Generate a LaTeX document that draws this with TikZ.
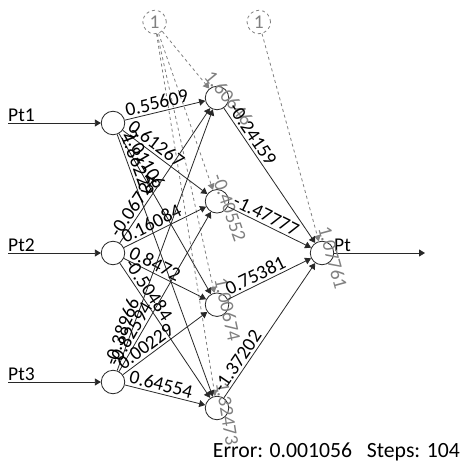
\documentclass[tikz,border=0pt]{standalone}
\usepackage{fontspec}
\setmainfont{Carlito}
\usetikzlibrary{arrows.meta,calc}
\definecolor{biasgray}{RGB}{128,128,128}
\definecolor{linecol}{RGB}{40,40,40}
\newcommand\fs{\fontsize{19.5}{22}\selectfont}
\newcommand\fsinfo{\fontsize{21.7}{25}\selectfont}
\newcommand\wsyn[3]{\draw[syn] (#1) -- (#2); \path ($(#1)!15pt!(#2)$) -- (#2) node[wlbl,pos=0]{#3};}
\newcommand\bsynp[3]{\draw[bsyn] (#1) -- (#2); \path ($(#2)!25pt!(#1)$) -- (#2) node[blbl,pos=0]{#3};}
\begin{document}
\begin{tikzpicture}[x=1pt,y=-1pt,
  neuron/.style={circle,draw=linecol,fill=white,minimum size=23.5pt,inner sep=0pt,line width=0.8pt},
  biasnode/.style={circle,draw=biasgray,dashed,minimum size=23.5pt,inner sep=0pt,line width=0.8pt,text=biasgray,font=\fs},
  syn/.style={draw=linecol,line width=0.8pt,-{Triangle[length=6pt,width=7pt]}},
  bsyn/.style={draw=biasgray,dashed,line width=0.8pt,-{Triangle[length=6pt,width=7pt]}},
  wlbl/.style={sloped,anchor=south west,inner xsep=0pt,inner ysep=2.5pt,font=\fs,text=black},
  blbl/.style={wlbl,text=biasgray},
  iolbl/.style={anchor=base west,inner sep=0pt,font=\fs,text=black}]
\useasboundingbox[fill=white] (0,0) rectangle (462,462);
% nodes
\node[neuron] (i1) at (113,123) {};
\node[neuron] (i2) at (113,253) {};
\node[neuron] (i3) at (113,382) {};
\node[neuron] (h1) at (217,98) {};
\node[neuron] (h2) at (217,201.3) {};
\node[neuron] (h3) at (217,304.7) {};
\node[neuron] (h4) at (217,408) {};
\node[neuron] (o) at (322,253) {};
\node[biasnode] (b1) at (154.6,22) {1};
\node[biasnode] (b2) at (258.8,22) {1};
\coordinate (s1) at (8,123);
\coordinate (s2) at (8,253);
\coordinate (s3) at (8,382);
\coordinate (e) at (425,253);
% input arrows
\draw[syn] (s1) -- (i1);
\draw[syn] (s2) -- (i2);
\draw[syn] (s3) -- (i3);
\node[iolbl] (l1) at (8,121.5) {Pt1};
\node[iolbl] (l2) at (8,251.5) {Pt2};
\node[iolbl] (l3) at (8,380.5) {Pt3};
\draw[syn] (o) -- (e);
\node[iolbl] (lo) at (334,251) {Pt};
% bias synapses
\bsynp{b1}{h1}{1.60646}
\bsynp{b1}{h2}{-0.40552}
\bsynp{b1}{h3}{1.00674}
\bsynp{b1}{h4}{1.32473}
\bsynp{b2}{o}{1.07761}
% input -> hidden
\wsyn{i1}{h1}{0.55609}
\wsyn{i1}{h2}{0.61267}
\wsyn{i1}{h3}{2.01106}
\wsyn{i1}{h4}{1.86229}
\wsyn{i2}{h1}{-0.06724}
\wsyn{i2}{h2}{0.16084}
\wsyn{i2}{h3}{0.8472}
\wsyn{i2}{h4}{-0.50484}
\wsyn{i3}{h1}{-0.38966}
\wsyn{i3}{h2}{-0.82594}
\wsyn{i3}{h3}{0.00229}
\wsyn{i3}{h4}{0.64554}
% hidden -> output
\wsyn{h1}{o}{-0.24159}
\wsyn{h2}{o}{-1.47777}
\wsyn{h3}{o}{0.75381}
\wsyn{h4}{o}{-1.37202}
% info
\node[anchor=base east,inner sep=0pt,font=\fsinfo] (info) at (460,457) {Error: 0.001056\ \ \ Steps: 104};
\end{tikzpicture}
\end{document}
